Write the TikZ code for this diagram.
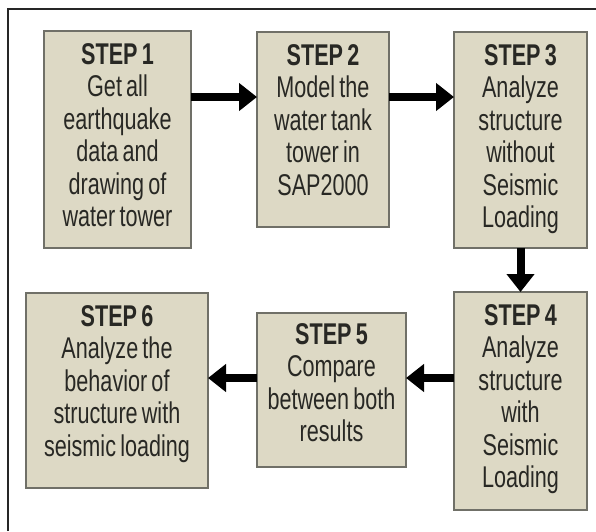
\documentclass[tikz,border=0pt]{standalone}
\usepackage{fontspec}
\setmainfont{Liberation Sans}[FakeStretch=0.72, WordSpace=0.7]
\usetikzlibrary{arrows.meta}
\definecolor{boxfill}{RGB}{221,217,197}
\definecolor{boxedge}{RGB}{112,112,104}
\definecolor{inktext}{RGB}{40,40,36}
\tikzset{
  stepbox/.style={draw=boxedge, line width=1.2pt, fill=boxfill, rectangle,
    inner sep=0pt, outer sep=0pt},
  steptext/.style={anchor=north, align=center, inner sep=0pt, text=inktext,
    font=\fontsize{30}{32.5}\selectfont},
  flow/.style={line width=8pt, -{Triangle[width=27pt,length=18pt]}}
}
\begin{document}
\begin{tikzpicture}[x=1pt, y=-1pt]
  \useasboundingbox (0,0) rectangle (596,531);
  % outer frame
  \draw[line width=1.6pt, black!85] (8,531) -- (8,9) -- (596,9);

  % step boxes
  \node[stepbox, minimum width=147pt, minimum height=217pt] (s1) at (117.5,139.5) {};
  \node[stepbox, minimum width=132pt, minimum height=195pt] (s2) at (323,129.5) {};
  \node[stepbox, minimum width=133pt, minimum height=216pt] (s3) at (520.5,140) {};
  \node[stepbox, minimum width=133pt, minimum height=218pt] (s4) at (520.5,401) {};
  \node[stepbox, minimum width=149pt, minimum height=154pt] (s5) at (331.5,390) {};
  \node[stepbox, minimum width=182pt, minimum height=195pt] (s6) at (117,390.5) {};

  % step texts
  \node[steptext] (t1) at ([yshift=-12pt]s1.north)
    {\textbf{STEP 1}\\Get all\\earthquake\\data and\\drawing of\\water tower};
  \node[steptext] (t2) at ([yshift=-12pt]s2.north)
    {\textbf{STEP 2}\\Model the\\water tank\\tower in\\SAP2000};
  \node[steptext] (t3) at ([yshift=-12pt]s3.north)
    {\textbf{STEP 3}\\Analyze\\structure\\without\\Seismic\\Loading};
  \node[steptext] (t4) at ([yshift=-12pt]s4.north)
    {\textbf{STEP 4}\\Analyze\\structure\\with\\Seismic\\Loading};
  \node[steptext] (t5) at ([yshift=-10pt]s5.north)
    {\textbf{STEP 5}\\Compare\\between both\\results};
  \node[steptext] (t6) at ([yshift=-12pt]s6.north)
    {\textbf{STEP 6}\\Analyze the\\behavior of\\structure with\\seismic loading};

  % connectors
  \draw[flow] ([yshift=42.5pt]s1.east) -- ([yshift=32.5pt]s2.west);
  \draw[flow] ([yshift=32.5pt]s2.east) -- ([yshift=43pt]s3.west);
  \draw[flow] (s3.south) -- (s4.north);
  \draw[flow] ([yshift=23pt]s4.west) -- ([yshift=12pt]s5.east);
  \draw[flow] ([yshift=12pt]s5.west) -- ([yshift=12.5pt]s6.east);
\end{tikzpicture}
\end{document}
